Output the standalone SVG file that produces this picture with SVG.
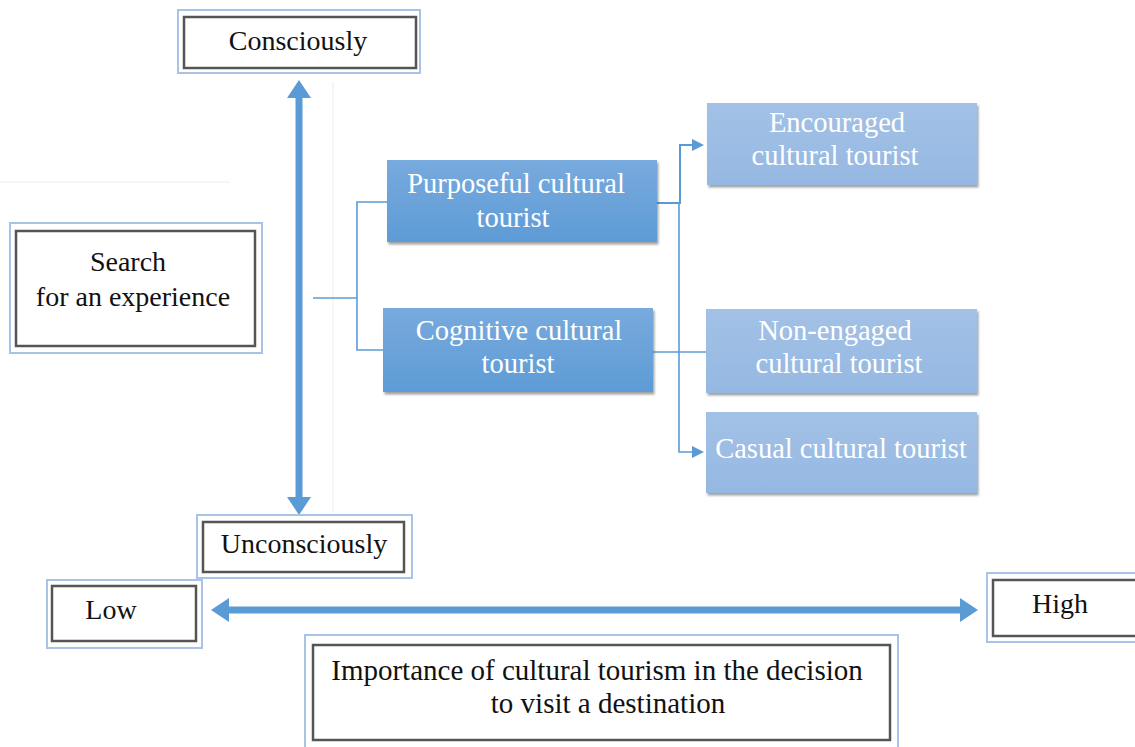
<svg xmlns="http://www.w3.org/2000/svg" width="1135" height="747" viewBox="0 0 1135 747">
<style>
  .outer{fill:#fff;stroke:#a9c2e6;stroke-width:2}
  .inner{fill:#fff;stroke:#555;stroke-width:2.5}
  .lbl{font-family:"Liberation Serif","Times New Roman",serif;font-size:28px;fill:#111;text-anchor:middle}
  .wlbl{font-family:"Liberation Serif","Times New Roman",serif;font-size:28.5px;fill:#fff;text-anchor:middle}
  .dark{fill:url(#gDark);filter:url(#sh)}
  .light{fill:url(#gLight);filter:url(#sh)}
  .big{stroke:#5b9bd5;stroke-width:7;fill:none}
  .thin{stroke:#5b9bd5;stroke-width:1.6;fill:none}
  .faint{stroke:#f3f3f3;stroke-width:1.5}
</style>
<defs>
  <linearGradient id="gDark" x1="0" y1="0" x2="0" y2="1">
    <stop offset="0" stop-color="#78aadd"/>
    <stop offset="1" stop-color="#5e9bd6"/>
  </linearGradient>
  <linearGradient id="gLight" x1="0" y1="0" x2="0" y2="1">
    <stop offset="0" stop-color="#a3c1e6"/>
    <stop offset="1" stop-color="#95b8e2"/>
  </linearGradient>
  <filter id="sh" x="-5%" y="-10%" width="110%" height="125%">
    <feDropShadow dx="1.5" dy="2.5" stdDeviation="1.2" flood-color="#555" flood-opacity="0.55"/>
  </filter>
  <marker id="bigHead" markerUnits="userSpaceOnUse" markerWidth="18" markerHeight="24" refX="0" refY="12" orient="auto-start-reverse">
    <path d="M0,0 L18,12 L0,24 z" fill="#5b9bd5"/>
  </marker>
  <marker id="smallHead" markerUnits="userSpaceOnUse" markerWidth="12" markerHeight="12" refX="2" refY="6" orient="auto">
    <path d="M0,0 L12,6 L0,12 z" fill="#5b9bd5"/>
  </marker>
</defs>

<g id="artifacts">
  <line class="faint" x1="0" y1="182" x2="230" y2="182"/>
  <line class="faint" x1="333" y1="82" x2="333" y2="512"/>
</g>

<g id="connectors">
  <line class="big" x1="299" y1="98" x2="299" y2="497" marker-start="url(#bigHead)" marker-end="url(#bigHead)"/>
  <line class="big" x1="229" y1="610" x2="960" y2="610" marker-start="url(#bigHead)" marker-end="url(#bigHead)"/>
  <polyline class="thin" points="313,298 357,298"/>
  <polyline class="thin" points="387,202 357,202 357,350 383,350"/>
  <polyline class="thin" style="stroke-width:2" points="657,203 680,203 680,145 694,145" marker-end="url(#smallHead)"/>
  <polyline class="thin" points="653,352 706,352"/>
  <polyline class="thin" points="679,203 679,452 694,452" marker-end="url(#smallHead)"/>
</g>

<g id="consciously">
  <rect class="outer" x="178" y="10" width="242" height="63"/>
  <rect class="inner" x="184" y="17" width="232" height="51"/>
  <text class="lbl" x="298" y="50">Consciously</text>
</g>

<g id="search">
  <rect class="outer" x="10" y="223" width="252" height="130"/>
  <rect class="inner" x="16" y="231" width="239" height="115"/>
  <text class="lbl" x="128" y="271">Search</text>
  <text class="lbl" x="133" y="306">for an experience</text>
</g>

<g id="unconsciously">
  <rect class="outer" x="197" y="515" width="215" height="63"/>
  <rect class="inner" x="203" y="522" width="201" height="50"/>
  <text class="lbl" x="304" y="553">Unconsciously</text>
</g>

<g id="low">
  <rect class="outer" x="47" y="580" width="155" height="68"/>
  <rect class="inner" x="52" y="586" width="144" height="55"/>
  <text class="lbl" x="111" y="619">Low</text>
</g>

<g id="high">
  <rect class="outer" x="987" y="573" width="160" height="69"/>
  <rect class="inner" x="993" y="580" width="150" height="56"/>
  <text class="lbl" x="1060" y="613">High</text>
</g>

<g id="importance">
  <rect class="outer" x="305" y="635" width="593" height="120"/>
  <rect class="inner" x="313" y="645" width="577" height="95"/>
  <text class="lbl" x="597" y="680" style="font-size:29px">Importance of cultural tourism in the decision</text>
  <text class="lbl" x="608" y="713" style="font-size:29px">to visit a destination</text>
</g>

<g id="purposeful">
  <rect class="dark" x="387" y="160" width="270" height="82"/>
  <text class="wlbl" x="516" y="193">Purposeful cultural</text>
  <text class="wlbl" x="513" y="227">tourist</text>
</g>

<g id="cognitive">
  <rect class="dark" x="383" y="308" width="270" height="84"/>
  <text class="wlbl" x="519" y="340">Cognitive cultural</text>
  <text class="wlbl" x="518" y="373">tourist</text>
</g>

<g id="encouraged">
  <rect class="light" x="707" y="103" width="270" height="82"/>
  <text class="wlbl" x="837" y="132">Encouraged</text>
  <text class="wlbl" x="835" y="165">cultural tourist</text>
</g>

<g id="nonengaged">
  <rect class="light" x="706" y="309" width="271" height="84"/>
  <text class="wlbl" x="835" y="340">Non-engaged</text>
  <text class="wlbl" x="839" y="373">cultural tourist</text>
</g>

<g id="casual">
  <rect class="light" x="706" y="412" width="271" height="81"/>
  <text class="wlbl" x="841" y="458">Casual cultural tourist</text>
</g>
</svg>
